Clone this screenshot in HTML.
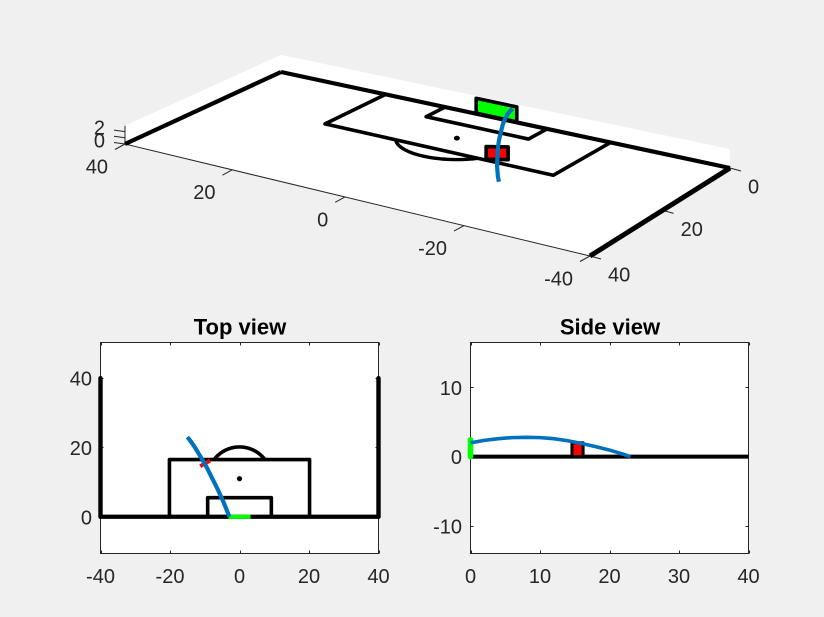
<!DOCTYPE html>
<html>
<head>
<meta charset="utf-8">
<style>
html,body{margin:0;padding:0;background:#f0f0f0;width:824px;height:617px;overflow:hidden}
svg{display:block;font-family:"Liberation Sans",Arial,sans-serif}
</style>
</head>
<body>
<svg id="fig" width="824" height="617" viewBox="0 0 824 617" xmlns="http://www.w3.org/2000/svg">
<rect x="0" y="0" width="824" height="617" fill="#f0f0f0"/>
<g id="view3d"></g>
<g id="top"></g>
<g id="side"></g>
<text x="240" y="334.5" text-anchor="middle" font-size="22" font-weight="bold" fill="#000">Top view</text>
<text x="610" y="334.5" text-anchor="middle" font-size="22" font-weight="bold" fill="#000">Side view</text>
</svg>
<script>
// Tick values and labels
const xTicks3d = [40, 20, 0, -20, -40];
const yTicks3d = [0, 20, 40];
const zTicks3d = [0, 1, 2];
const zTickLabels3d = ['0', '', '2'];
const topXTicks = [-40, -20, 0, 20, 40];
const topYTicks = [0, 20, 40];
const sideXTicks = [0, 10, 20, 30, 40];
const sideYTicks = [-10, 0, 10];

// Pitch geometry, in pitch units: [x, y] vertices
const goalLine = [[-40, 0], [40, 0]];
const leftTouchLine = [[-40, 0], [-40, 40]];
const rightTouchLine = [[40, 0], [40, 40]];
const penaltyBox = [[-20.16, 0], [-20.16, 16.5], [20.16, 16.5], [20.16, 0]];
const goalArea = [[-9.16, 0], [-9.16, 5.5], [9.16, 5.5], [9.16, 0]];
const penaltySpot = [0, 11];
const arcRadius = 9.15;
const goalHalfWidth = 3.66;
const goalHeight = 2.44;
const topGoalSpan = [-3.17, 3.17];

// Defensive wall: ends [x, y] and height
const wallEnds = [[-11.3, 14.6], [-8.5, 16.2]];
const wallHeight = 2;

// Ball flight series
const ballY = [0, 2, 4, 6, 8, 10, 12, 14, 16, 18, 20, 22, 23];
const ballX = [-2.9, -3.7, -4.5, -5.4, -6.3, -7.3, -8.3, -9.3, -10.4, -11.6, -12.8, -14.2, -15];
const ballZ = [2, 2.35, 2.6, 2.75, 2.8, 2.75, 2.6, 2.3, 1.9, 1.45, 0.95, 0.35, 0];

const NS = 'http://www.w3.org/2000/svg';
const INK = '#262626';
const BLUE = '#0072BD';
const TICK_FONT = 20;

function mk(parent, tag, name, attrs, txt) {
  const el = document.createElementNS(NS, tag);
  
  
  for (const k in attrs) el.setAttribute(k, attrs[k]);
  if (txt !== undefined) el.textContent = txt;
  parent.appendChild(el);
  return el;
}
function pathOf(pts, close) {
  return pts.map((p, i) => (i ? 'L' : 'M') + p[0].toFixed(2) + ' ' + p[1].toFixed(2)).join(' ') + (close ? ' Z' : '');
}
function line(g, name, pts, color, w, extra) {
  return mk(g, 'path', name, Object.assign({
    d: pathOf(pts), fill: 'none', stroke: color, 'stroke-width': w,
    'stroke-linejoin': 'round', 'stroke-linecap': 'butt'
  }, extra || {}));
}
function arcPoints() {
  const a = Math.acos((penaltyBox[1][1] - penaltySpot[1]) / arcRadius);
  const out = [];
  for (let i = 0; i <= 40; i++) {
    const t = -a + 2 * a * i / 40;
    out.push([penaltySpot[0] + arcRadius * Math.sin(t), penaltySpot[1] + arcRadius * Math.cos(t)]);
  }
  return out;
}

/* ---------- 3D perspective view ---------- */
const G = -0.09979, H = -0.06445;
const A = 449 + G * 730, B = -156 + H * 125, C = 281;
const D = 96 + G * 168, E = 72 + H * 144, F = 72;
const KZ = 5.8, ZTOP = 2.95;
function p3(x, y, z) {
  const u = (40 - x) / 80, v = y / 40;
  const w = G * u + H * v + 1;
  const nudge = 3 * Math.sin(Math.PI * u) * (1.5 - 1.2 * u) * (1 - 0.7 * v);
  return [(A * u + B * v + C) / w + nudge, (D * u + E * v + F - KZ * (z || 0)) / w];
}
(function () {
  const g = document.getElementById('view3d');
  mk(g, 'path', 'back-walls-and-floor', {
    d: pathOf([p3(40, 40, 0), p3(40, 40, ZTOP), p3(40, 0, ZTOP), p3(-40, 0, ZTOP), p3(-40, 0, 0), p3(-40, 40, 0)], true),
    fill: '#fff'
  });
  line(g, 'x-axis-line', [p3(40, 40, 0), p3(-40, 40, 0)], INK, 1);
  line(g, 'y-axis-line', [p3(-40, 0, 0), p3(-40, 40, 0)], INK, 1);
  line(g, 'z-axis-line', [p3(40, 40, 0), p3(40, 40, ZTOP)], INK, 1);

  xTicks3d.forEach(function (t) {
    const p = p3(t, 40, 0);
    line(g, 'x-tick', [p, [p[0] - 10, p[1] + 5.5]], INK, 1);
    mk(g, 'text', 'x-tick-label', {x: p[0] - 17, y: p[1] + 29.5, 'text-anchor': 'end', 'font-size': TICK_FONT, fill: INK}, String(t));
  });
  yTicks3d.forEach(function (t) {
    const p = p3(-40, t, 0);
    line(g, 'y-tick', [p, [p[0] + 11, p[1] + 3]], INK, 1);
    mk(g, 'text', 'y-tick-label', {x: p[0] + 18, y: p[1] + 25.5, 'text-anchor': 'start', 'font-size': TICK_FONT, fill: INK}, String(t));
  });
  zTicks3d.forEach(function (t, i) {
    const p = p3(40, 40, t);
    line(g, 'z-tick', [p, [p[0] - 11, p[1] - 1.5]], INK, 1);
    if (zTickLabels3d[i]) {
      mk(g, 'text', 'z-tick-label', {x: p[0] - 20, y: 144 - t * 6.5 + 3.5, 'text-anchor': 'end', 'font-size': TICK_FONT, fill: INK}, zTickLabels3d[i]);
    }
  });

  const P = function (a) { return a.map(function (q) { return p3(q[0], q[1], 0); }); };
  line(g, 'pitch-goal-line', P(goalLine), '#000', 4.2);
  line(g, 'pitch-touch-line-left', P(rightTouchLine), '#000', 4.2);
  line(g, 'pitch-touch-line-right', P(leftTouchLine), '#000', 5);
  line(g, 'penalty-box', P(penaltyBox), '#000', 3.6);
  line(g, 'goal-area', P(goalArea), '#000', 3.6);
  line(g, 'penalty-arc', P(arcPoints()), '#000', 3.4);
  const s = p3(penaltySpot[0], penaltySpot[1], 0);
  mk(g, 'ellipse', 'penalty-spot', {cx: s[0], cy: s[1], rx: 3, ry: 2.4, fill: '#000'});

  mk(g, 'path', 'goal', {
    d: pathOf([p3(goalHalfWidth, 0, 0), p3(goalHalfWidth, 0, goalHeight), p3(-goalHalfWidth, 0, goalHeight), p3(-goalHalfWidth, 0, 0)], true),
    fill: '#00ff00', stroke: '#000', 'stroke-width': 3.6, 'stroke-linejoin': 'round'
  });
  const a = wallEnds[0], b = wallEnds[1];
  mk(g, 'path', 'defensive-wall', {
    d: pathOf([p3(a[0], a[1], 0), p3(a[0], a[1], wallHeight), p3(b[0], b[1], wallHeight), p3(b[0], b[1], 0)], true),
    fill: '#ff0000', stroke: '#000', 'stroke-width': 3.6, 'stroke-linejoin': 'round'
  });
  line(g, 'ball-trajectory', ballY.map(function (y, i) { return p3(ballX[i], y, ballZ[i]); }), BLUE, 4.2);
})();

/* ---------- 2D axes helper ---------- */
function axes2d(g, box, xlim, ylim, xt, yt) {
  const sx = function (v) { return box.l + (v - xlim[0]) / (xlim[1] - xlim[0]) * (box.r - box.l); };
  const sy = function (v) { return box.b - (v - ylim[0]) / (ylim[1] - ylim[0]) * (box.b - box.t); };
  mk(g, 'rect', 'plot-area', {x: box.l, y: box.t, width: box.r - box.l, height: box.b - box.t, fill: '#fff', stroke: INK, 'stroke-width': 1});
  xt.forEach(function (t) {
    const x = Math.round(sx(t)) + 0.5;
    line(g, 'x-tick', [[x, box.b], [x, box.b - 3]], INK, 1);
    line(g, 'x-tick-top', [[x, box.t], [x, box.t + 3]], INK, 1);
    mk(g, 'text', 'x-tick-label', {x: sx(t), y: box.b + 29.5, 'text-anchor': 'middle', 'font-size': TICK_FONT, fill: INK}, String(t));
  });
  yt.forEach(function (t) {
    const y = Math.round(sy(t)) + 0.5;
    line(g, 'y-tick', [[box.l, y], [box.l + 3, y]], INK, 1);
    line(g, 'y-tick-right', [[box.r, y], [box.r - 3, y]], INK, 1);
    mk(g, 'text', 'y-tick-label', {x: box.l - 8.5, y: sy(t) + 7.5, 'text-anchor': 'end', 'font-size': TICK_FONT, fill: INK}, String(t));
  });
  return {sx: sx, sy: sy};
}

/* ---------- Top view ---------- */
(function () {
  const g = document.getElementById('top');
  const ax = axes2d(g, {l: 100.5, r: 378.5, t: 342.5, b: 553.5}, [-40, 40], [-10.6, 50.3], topXTicks, topYTicks);
  const P = function (a) { return a.map(function (q) { return [ax.sx(q[0]), ax.sy(q[1])]; }); };
  const o = {'stroke-linecap': 'round'};
  line(g, 'pitch-goal-line', P(goalLine), '#000', 4.2, o);
  line(g, 'pitch-touch-line-left', P(leftTouchLine), '#000', 4.4, o);
  line(g, 'pitch-touch-line-right', P(rightTouchLine), '#000', 4.4, o);
  line(g, 'penalty-box', P(penaltyBox), '#000', 3.6);
  line(g, 'goal-area', P(goalArea), '#000', 3.6);
  line(g, 'penalty-arc', P(arcPoints()), '#000', 3.6);
  mk(g, 'circle', 'penalty-spot', {cx: ax.sx(penaltySpot[0]), cy: ax.sy(penaltySpot[1]), r: 2.6, fill: '#000'});
  line(g, 'goal', [[ax.sx(topGoalSpan[0]), ax.sy(0)], [ax.sx(topGoalSpan[1]), ax.sy(0)]], '#00ff00', 4.2);
  line(g, 'defensive-wall', P(wallEnds), '#ff0000', 4);
  line(g, 'ball-trajectory', ballY.map(function (y, i) { return [ax.sx(ballX[i]), ax.sy(y)]; }), BLUE, 4.2);
})();

/* ---------- Side view ---------- */
(function () {
  const g = document.getElementById('side');
  const ax = axes2d(g, {l: 470.5, r: 748.5, t: 342.5, b: 553.5}, [0, 40], [-14, 16.5], sideXTicks, sideYTicks);
  const P = function (a) { return a.map(function (q) { return [ax.sx(q[0]), ax.sy(q[1])]; }); };
  line(g, 'pitch-ground-line', P([[0, 0], [40, 0]]), '#000', 4);
  line(g, 'goal', P([[0, 0], [0, goalHeight]]), '#00ff00', 5.6, {'stroke-linecap': 'round'});
  const y0 = wallEnds[0][1], y1 = wallEnds[1][1];
  mk(g, 'path', 'defensive-wall', {
    d: pathOf(P([[y0, 0], [y0, wallHeight], [y1, wallHeight], [y1, 0]]), true),
    fill: '#ff0000', stroke: '#000', 'stroke-width': 3, 'stroke-linejoin': 'round'
  });
  line(g, 'ball-trajectory', ballY.map(function (y, i) { return [ax.sx(y), ax.sy(ballZ[i])]; }), BLUE, 3.6);
})();
</script>
</body>
</html>
